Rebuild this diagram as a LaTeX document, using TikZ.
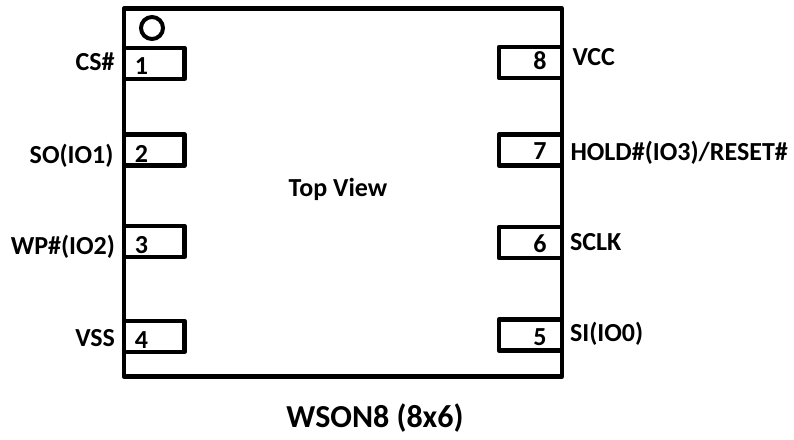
\documentclass[tikz,border=0pt]{standalone}
\usepackage{fontspec}
\setmainfont{Carlito}
\tikzset{
  x=1pt,y=-1pt,
  outl/.style={draw=black,line width=4.3pt,line join=round,fill=none},
  lbl/.style={inner sep=0pt,outer sep=0pt,font=\fontsize{26}{28}\selectfont\bfseries,text=black},
  lblL/.style={lbl,anchor=base east},
  lblR/.style={lbl,anchor=base west},
  num/.style={lbl,anchor=base,font=\fontsize{26}{28}\selectfont\bfseries}
}
\begin{document}
\begin{tikzpicture}
\useasboundingbox[fill=white] (0,0) rectangle (794,439);
\draw[outl] (124,8.5) rectangle (562,376.5);
\draw[outl] (124,48) rectangle (184.5,79);
\draw[outl] (124,134.5) rectangle (184.5,165.5);
\draw[outl] (124,226) rectangle (184.5,257);
\draw[outl] (124,321) rectangle (184.5,352);
\draw[outl] (499,47) rectangle (562,78);
\draw[outl] (499,134.5) rectangle (562,165.5);
\draw[outl] (499,227) rectangle (562,258);
\draw[outl] (499,319.5) rectangle (562,350.5);
\draw[draw=black,line width=4pt] (152,28) circle (11);
\node[num] (n1) at (141.5,74) {1};
\node[num] (n2) at (141.5,162) {2};
\node[num] (n3) at (141.5,253) {3};
\node[num] (n4) at (141.5,348) {4};
\node[num] (n8) at (540,69) {8};
\node[num] (n7) at (540,159) {7};
\node[num] (n6) at (540,252) {6};
\node[num] (n5) at (540,345) {5};
\node[lblL] (cs) at (114.5,70) {CS\#};
\node[lblL] (so) at (113.5,163) {SO(IO1)};
\node[lblL] (wp) at (115,254) {WP\#(IO2)};
\node[lblL] (vss) at (115,346) {VSS};
\node[lblR] (vcc) at (572.5,65) {VCC};
\node[lblR] (hold) at (570.5,160) {HOLD\#(IO3)/RESET\#};
\node[lblR] (sclk) at (570,250) {SCLK};
\node[lblR] (si) at (570,341) {SI(IO0)};
\node[lbl,anchor=base] (top) at (338,196) {Top View};
\node[lbl,anchor=base,font=\fontsize{32}{34}\selectfont\bfseries] (title) at (375,427) {WSON8 (8x6)};
\end{tikzpicture}
\end{document}
